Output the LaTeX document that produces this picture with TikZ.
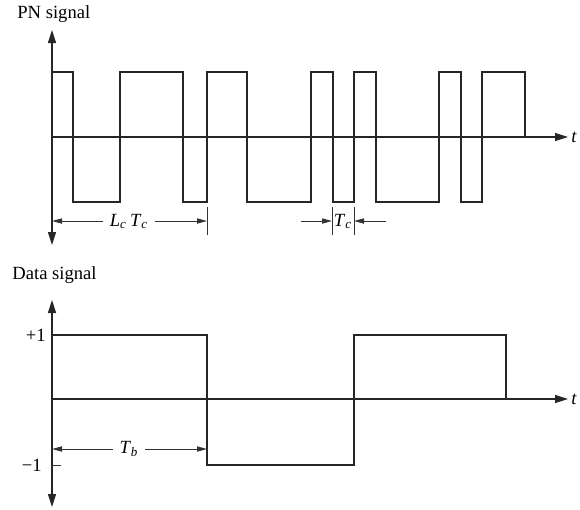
\documentclass[tikz,border=0pt]{standalone}
\usepackage{fontspec}
\setmainfont{Liberation Serif}
\usetikzlibrary{arrows.meta}
\tikzset{
    % axes with filled heads
    axisline/.style={
        line width=0.7pt,
        black!85,
        >={Triangle[length=6.5pt, width=4pt]}
    },
    signal/.style={
        line width=1.4pt,
        black!85
    },
    dimline/.style={
        line width=0.5pt,
        black!80,
        >={Triangle[length=5pt, width=2.6pt]}
    },
    lbl/.style={font=\fontsize{9.3}{11}\selectfont, inner sep=1pt}
}

\begin{document}
\begin{tikzpicture}[x=0.5pt, y=-0.5pt]
    \useasboundingbox (0,0) rectangle (580,510);
    % PN signal
    \node[lbl, anchor=west] (pnlabel) at (15,14) {PN signal};
    \coordinate (pntop) at (52,30);
    \coordinate (pnbot) at (52,245);
    \coordinate (pnO) at (52,137);
    \coordinate (pnend) at (568,137);
    \draw[axisline, <->] (pnbot) -- (pntop);
    \draw[axisline, ->] (pnO) -- (pnend);
    \node[lbl, anchor=west, inner sep=0pt, font=\fontsize{9.3}{11}\selectfont\itshape] (pnt) at (571,137) {t};
    \draw[signal] (52,72) -| (73,202) -| (120,72) -| (183,202) -| (207,72) -| (247,202)
        -| (311,72) -| (333,202) -| (354,72) -| (376,202) -| (439,72) -| (461,202)
        -| (482,72) -| (525,137);
    \coordinate (lctop) at (207,207);
    \coordinate (lcbot) at (207,235);
    \draw[dimline] (lctop) -- (lcbot);
    \coordinate (lcA) at (52,221);
    \coordinate (lcB) at (207,221);
    \node[lbl, fill=white, inner xsep=3pt] (lctc) at (129,221) {\textit{L}\textsubscript{\textit{c}}\,\textit{T}\textsubscript{\textit{c}}};
    \draw[dimline, ->] (lctc) -- (lcA);
    \draw[dimline, ->] (lctc) -- (lcB);
    \coordinate (tcAtop) at (332,207);
    \coordinate (tcAbot) at (332,235);
    \coordinate (tcBtop) at (354,207);
    \coordinate (tcBbot) at (354,235);
    \draw[dimline] (tcAtop) -- (tcAbot);
    \draw[dimline] (tcBtop) -- (tcBbot);
    \coordinate (tcL) at (301,221);
    \coordinate (tcR) at (386,221);
    \coordinate (tcA) at (332,221);
    \coordinate (tcB) at (354,221);
    \draw[dimline, ->] (tcL) -- (tcA);
    \draw[dimline, ->] (tcR) -- (tcB);
    \node[lbl] (tc) at (343,221) {\textit{T}\textsubscript{\textit{c}}};

    % Data signal
    \node[lbl, anchor=west] (datalabel) at (10,275) {Data signal};
    \coordinate (dtop) at (52,300);
    \coordinate (dbot) at (52,507);
    \coordinate (dO) at (52,399);
    \coordinate (dend) at (568,399);
    \draw[axisline, <->] (dbot) -- (dtop);
    \draw[axisline, ->] (dO) -- (dend);
    \node[lbl, anchor=west, inner sep=0pt, font=\fontsize{9.3}{11}\selectfont\itshape] (dt) at (571,399) {t};
    \node[lbl, anchor=east] (plus) at (48,335) {+1};
    \node[lbl, anchor=east] (minus) at (44,465) {−1};
    \coordinate (mtickA) at (52,465);
    \coordinate (mtickB) at (61,465);
    \draw[dimline] (mtickA) -- (mtickB);
    \draw[signal] (52,335) -| (207,465) -| (354,335) -| (506,399);
    \coordinate (tbA) at (52,449);
    \coordinate (tbB) at (207,449);
    \node[lbl, fill=white, inner xsep=3pt] (tb) at (129,449) {\textit{T}\textsubscript{\textit{b}}};
    \draw[dimline, ->] (tb) -- (tbA);
    \draw[dimline, ->] (tb) -- (tbB);
\end{tikzpicture}
\end{document}
